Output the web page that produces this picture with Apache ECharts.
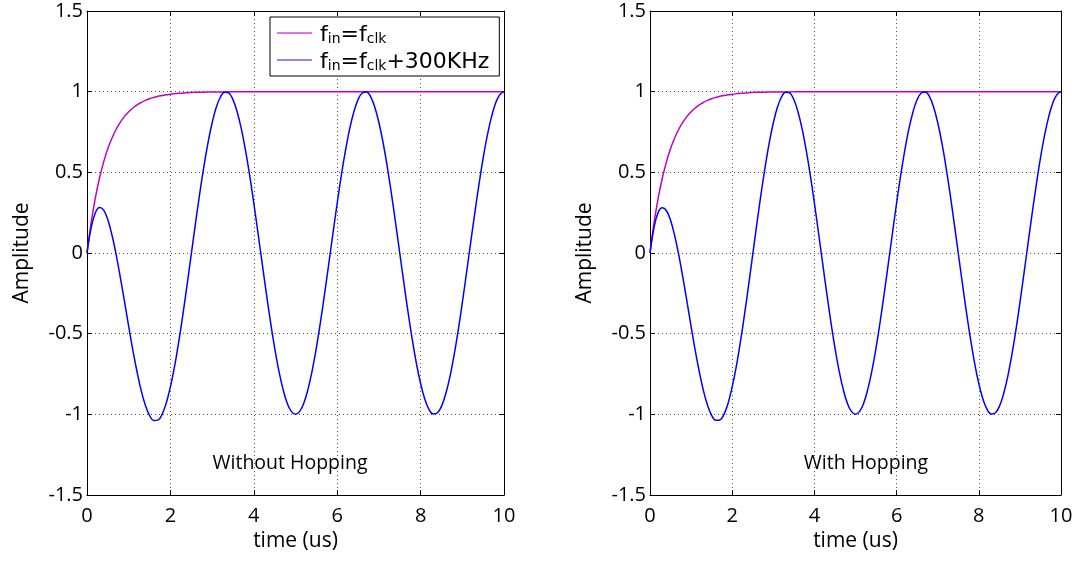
<!DOCTYPE html>
<html>
<head>
<meta charset="utf-8">
<script src="https://cdn.jsdelivr.net/npm/echarts@6/dist/echarts.min.js"></script>
<style>
html,body{margin:0;padding:0;background:#fff;}
#chart{width:1092px;height:561px;}
</style>
</head>
<body>
<div id="chart"></div>
<script>
// ---- data ----
const time = [0,0.1,0.2,0.3,0.4,0.5,0.6,0.7,0.8,0.9,1.0,1.1,1.2,1.3,1.4,1.5,1.6,1.7,1.8,1.9,2.0,2.1,2.2,2.3,2.4,2.5,2.6,2.7,2.8,2.9,3.0,3.1,3.2,3.3,3.4,3.5,3.6,3.7,3.8,3.9,4.0,4.1,4.2,4.3,4.4,4.5,4.6,4.7,4.8,4.9,5.0,5.1,5.2,5.3,5.4,5.5,5.6,5.7,5.8,5.9,6.0,6.1,6.2,6.3,6.4,6.5,6.6,6.7,6.8,6.9,7.0,7.1,7.2,7.3,7.4,7.5,7.6,7.7,7.8,7.9,8.0,8.1,8.2,8.3,8.4,8.5,8.6,8.7,8.8,8.9,9.0,9.1,9.2,9.3,9.4,9.5,9.6,9.7,9.8,9.9,10.0];
const blueWithout = [0,0.157,0.249,0.282,0.266,0.206,0.110,-0.011,-0.152,-0.302,
  -0.455,-0.603,-0.736,-0.853,-0.944,-1.007,-1.038,-1.036,-1.000,-0.931,
  -0.830,-0.703,-0.550,-0.380,-0.197,-0.008,0.180,0.363,0.531,0.681,
  0.806,0.903,0.967,0.997,0.992,0.951,0.876,0.771,0.637,0.482,
  0.309,0.125,-0.063,-0.249,-0.426,-0.588,-0.729,-0.844,-0.930,-0.982,
  -1.000,-0.982,-0.930,-0.844,-0.729,-0.588,-0.426,-0.249,-0.063,0.125,
  0.309,0.482,0.637,0.771,0.876,0.951,0.992,0.998,0.969,0.905,
  0.809,0.685,0.536,0.368,0.187,0.000,-0.187,-0.368,-0.536,-0.685,
  -0.809,-0.905,-0.969,-0.998,-0.992,-0.951,-0.876,-0.771,-0.637,-0.482,
  -0.309,-0.125,0.063,0.249,0.426,0.588,0.729,0.844,0.930,0.982,
  1.000];
const blueWith = [0,0.160,0.252,0.280,0.262,0.203,0.108,-0.012,-0.153,-0.302,
  -0.455,-0.603,-0.736,-0.853,-0.944,-1.006,-1.037,-1.035,-1.000,-0.931,
  -0.830,-0.703,-0.550,-0.380,-0.197,-0.008,0.180,0.363,0.531,0.681,
  0.806,0.903,0.967,0.997,0.992,0.951,0.876,0.771,0.637,0.482,
  0.309,0.125,-0.063,-0.249,-0.426,-0.588,-0.729,-0.844,-0.930,-0.982,
  -1.000,-0.982,-0.930,-0.844,-0.729,-0.588,-0.426,-0.249,-0.063,0.125,
  0.309,0.482,0.637,0.771,0.876,0.951,0.992,0.998,0.969,0.905,
  0.809,0.685,0.536,0.368,0.187,0.000,-0.187,-0.368,-0.536,-0.685,
  -0.809,-0.905,-0.969,-0.998,-0.992,-0.951,-0.876,-0.771,-0.637,-0.482,
  -0.309,-0.125,0.063,0.249,0.426,0.588,0.729,0.844,0.930,0.982,
  1.000];
const magTime = [0,0.1,0.2,0.3,0.4,0.5,0.6,0.7,0.8,0.9,1.0,1.1,1.2,1.3,1.4,1.5,1.6,1.7,1.8,1.9,2.0,2.2,2.4,2.6,2.8,3.0,3.5,4.0,10.0];
const magWithout = [0,0.188,0.341,0.465,0.565,0.647,0.713,0.767,0.811,0.847,0.875,0.899,0.918,0.933,0.946,0.956,0.964,0.971,0.976,0.981,0.984,0.990,0.993,0.996,0.997,0.998,0.999,1.0,1.0];
const magWith = [0,0.190,0.342,0.465,0.565,0.647,0.713,0.767,0.811,0.847,0.875,0.899,0.918,0.933,0.946,0.956,0.964,0.971,0.976,0.981,0.984,0.990,0.993,0.996,0.997,0.998,0.999,1.0,1.0];
const xTicks = {min: 0, max: 10, interval: 2};
const yTicks = {min: -1.5, max: 1.5, interval: 0.5};
const panelNotes = ['Without Hopping', 'With Hopping'];
const xTitle = 'time (us)';
const yTitle = 'Amplitude';
const legendNames = ['fin=fclk', 'fin=fclk+300KHz'];
const legendRich = ['{f0|f}{s|in}{n|=f}{s|clk}', '{f0|f}{s|in}{n|=f}{s|clk}{n|+300KHz}'];

// ---- chart ----
const pair = (xs, ys) => xs.map((x, i) => [x, ys[i]]);
const chart = echarts.init(document.getElementById('chart'), null, {renderer: 'canvas'});
const tickFont = {fontFamily: 'Open Sans', fontSize: 20, color: '#000'};
const gridLine = {show: true, lineStyle: {type: [1, 3], color: '#555', width: 1}};
const axLine = {show: true, onZero: false, lineStyle: {color: '#000', width: 1}};
const tick = {show: true, inside: true, length: 5, lineStyle: {color: '#000', width: 1}};

const grids = [
  {left: 87, right: 588, top: 11, bottom: 66},
  {left: 650, right: 31, top: 11, bottom: 66}
];
const xAxes = [], yAxes = [];
grids.forEach((g, i) => {
  xAxes.push({gridIndex: i, type: 'value', position: 'bottom', min: xTicks.min, max: xTicks.max, interval: xTicks.interval,
    axisLine: axLine, axisTick: tick, splitLine: gridLine,
    axisLabel: Object.assign({margin: 11, showMinLabel: true, showMaxLabel: true}, tickFont),
    name: xTitle, nameLocation: 'middle', nameGap: 36,
    nameTextStyle: {fontFamily: 'Open Sans', fontSize: 21, color: '#000'}});
  xAxes.push({gridIndex: i, type: 'value', position: 'top', min: xTicks.min, max: xTicks.max, interval: xTicks.interval,
    axisLine: axLine, axisTick: tick, splitLine: {show: false}, axisLabel: {show: false}});
  yAxes.push({gridIndex: i, type: 'value', position: 'left', min: yTicks.min, max: yTicks.max, interval: yTicks.interval,
    axisLine: axLine, axisTick: tick, splitLine: gridLine,
    axisLabel: Object.assign({margin: 4, showMinLabel: true, showMaxLabel: true}, tickFont),
    name: yTitle, nameLocation: 'middle', nameGap: 54, nameRotate: 90,
    nameTextStyle: {fontFamily: 'Open Sans', fontSize: 21, color: '#000'}});
  yAxes.push({gridIndex: i, type: 'value', position: 'right', min: yTicks.min, max: yTicks.max, interval: yTicks.interval,
    axisLine: axLine, axisTick: tick, splitLine: {show: false}, axisLabel: {show: false}});
});

const lineSeries = (name, xi, yi, data, color) => ({
  name, type: 'line', xAxisIndex: xi, yAxisIndex: yi, data,
  symbol: 'none', showSymbol: false, smooth: 0.4, clip: true,
  lineStyle: {color, width: 1.5}, itemStyle: {color}, emphasis: {disabled: true}
});

const MAG = '#c400c4', BLUE = '#0000ff';
const option = {
  animation: false,
  backgroundColor: '#fff',
  grid: grids,
  xAxis: xAxes,
  yAxis: yAxes,
  legend: {
    data: [
      {name: legendNames[0], icon: 'rect', itemStyle: {color: '#e040e0'}},
      {name: legendNames[1], icon: 'rect', itemStyle: {color: '#6060ff'}}
    ],
    orient: 'vertical', left: 270, top: 17,
    backgroundColor: '#fff', borderColor: '#000', borderWidth: 1, borderRadius: 0,
    padding: [7, 10, 3, 7], itemGap: 5, itemWidth: 35, itemHeight: 1.5,
    selectedMode: false,
    formatter: name => legendRich[legendNames.indexOf(name)],
    textStyle: {
      color: '#000',
      rich: {
        f0: {fontFamily: 'DejaVu Sans', fontSize: 22, lineHeight: 26, verticalAlign: 'bottom', padding: [0, 0, 0, 3]},
        n: {fontFamily: 'DejaVu Sans', fontSize: 22, lineHeight: 26, verticalAlign: 'bottom'},
        s: {fontFamily: 'DejaVu Sans', fontSize: 14, lineHeight: 14, verticalAlign: 'bottom'}
      }
    }
  },
  graphic: [
    {type: 'text', x: 290, y: 463, style: {text: panelNotes[0], fontFamily: 'Open Sans', fontSize: 19.5, fill: '#000', textAlign: 'center', textVerticalAlign: 'middle'}},
    {type: 'text', x: 866, y: 463, style: {text: panelNotes[1], fontFamily: 'Open Sans', fontSize: 19.5, fill: '#000', textAlign: 'center', textVerticalAlign: 'middle'}}
  ],
  series: [
    lineSeries(legendNames[0], 0, 0, pair(magTime, magWithout), MAG),
    lineSeries(legendNames[1], 0, 0, pair(time, blueWithout), BLUE),
    lineSeries('mag2', 2, 2, pair(magTime, magWith), MAG),
    lineSeries('blue2', 2, 2, pair(time, blueWith), BLUE)
  ]
};
chart.setOption(option);
</script>
</body>
</html>
